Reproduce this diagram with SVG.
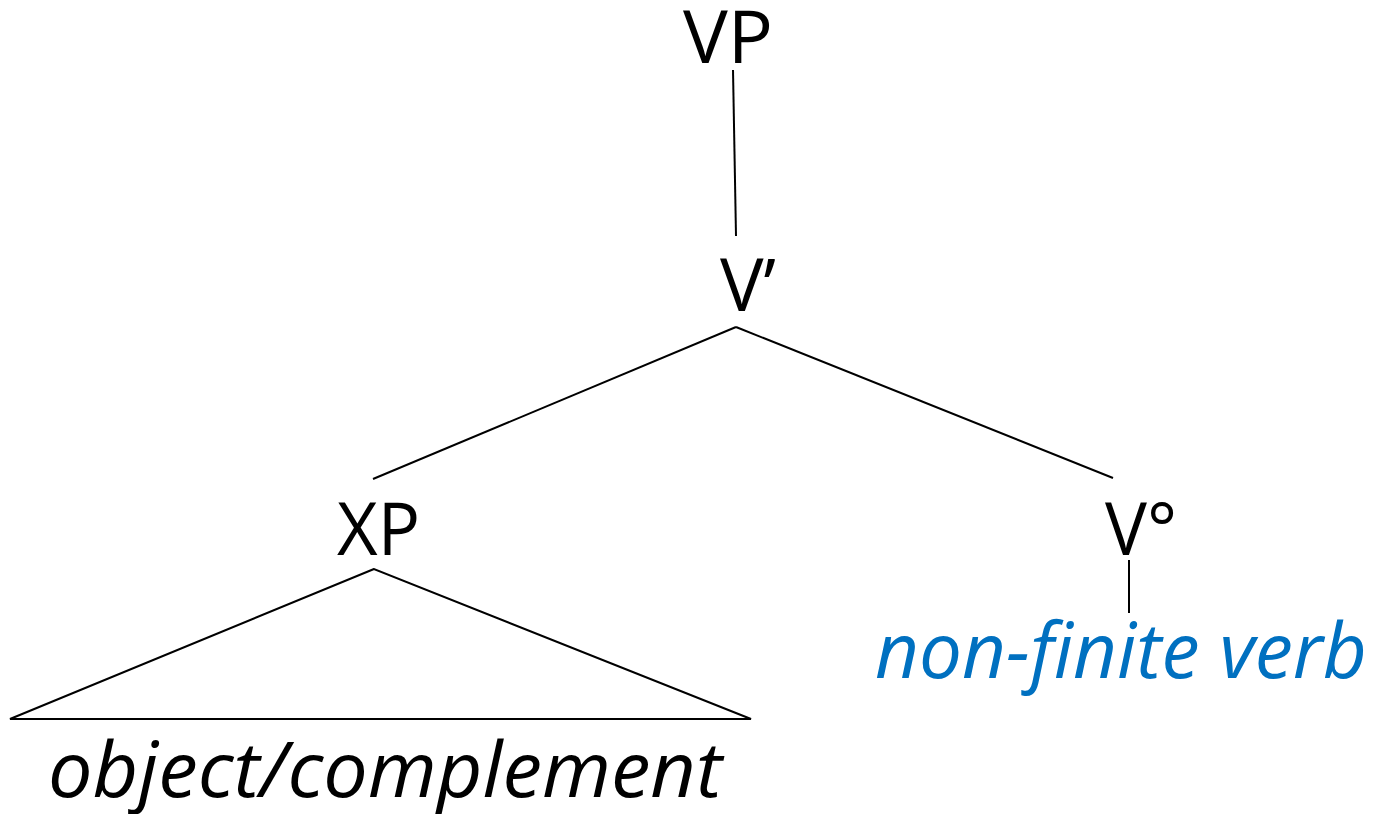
<svg xmlns="http://www.w3.org/2000/svg" width="1386" height="814" viewBox="0 0 1386 814">
  <style>
    .bg { fill: #ffffff; }
    .edge { stroke: #000000; stroke-width: 2; fill: none; }
    .cat { font-family: "Open Sans", "Liberation Sans", sans-serif; font-size: 74px; fill: #000000; }
    .word { font-family: "Open Sans", "Liberation Sans", sans-serif; font-style: italic; font-size: 76px; }
    .obj { fill: #000000; }
    .verb { fill: #0070c0; }
  </style>
  <rect class="bg" x="0" y="0" width="1386" height="814"/>

  <!-- tree branches -->
  <g id="connectors">
    <line class="edge" x1="733" y1="70" x2="736" y2="236"/>
    <line class="edge" x1="736" y1="327" x2="373" y2="479"/>
    <line class="edge" x1="736" y1="327" x2="1113" y2="478"/>
    <line class="edge" x1="1129" y1="560" x2="1129" y2="613"/>
  </g>

  <g id="node-vp">
    <text class="cat" x="683" y="63" textLength="90" lengthAdjust="spacingAndGlyphs">VP</text>
  </g>

  <g id="node-vbar">
    <text class="cat" x="720" y="311" textLength="56" lengthAdjust="spacingAndGlyphs">V’</text>
  </g>

  <g id="node-xp">
    <text class="cat" x="337" y="555" textLength="83" lengthAdjust="spacingAndGlyphs">XP</text>
  </g>

  <g id="node-v0">
    <text class="cat" x="1105" y="555" textLength="72" lengthAdjust="spacingAndGlyphs">V°</text>
  </g>

  <!-- XP subtree drawn as a triangle -->
  <g id="node-xp-triangle">
    <polygon class="edge" points="374,569 10,719 751,719"/>
  </g>

  <g id="node-object">
    <text class="word obj" x="48" y="797" textLength="674" lengthAdjust="spacingAndGlyphs">object/complement</text>
  </g>

  <g id="node-verb">
    <text class="word verb" x="875" y="678" textLength="492" lengthAdjust="spacingAndGlyphs">non-finite verb</text>
  </g>
</svg>
